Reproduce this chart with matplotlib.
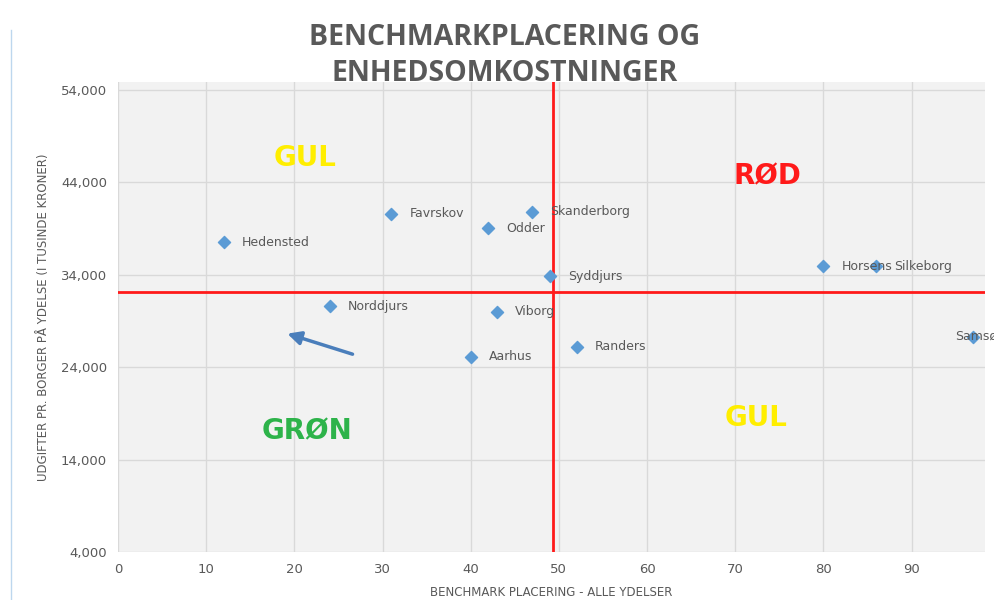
import matplotlib.pyplot as plt
from matplotlib.lines import Line2D

# --- Data ---
kommuner = ['Hedensted', 'Favrskov', 'Skanderborg', 'Odder', 'Syddjurs', 'Norddjurs',
            'Viborg', 'Aarhus', 'Randers', 'Horsens', 'Silkeborg', 'Samsø']
placering = [12, 31, 47, 42, 49, 24, 43, 40, 52, 80, 86, 97]
udgifter = [37500, 40600, 40800, 39000, 33800, 30600, 30000, 25100, 26200, 34900, 34900, 27300]

x_split = 49.3
y_split = 32150

quadrants = ['GUL', 'RØD', 'GRØN', 'GUL']
quad_x = [21.2, 73.6, 21.4, 72.4]
quad_y = [46600, 44600, 17000, 18500]
quad_colors = ['#ffee00', '#ff1a1a', '#2db34a', '#ffee00']

# label offsets (points) - Samsø label sits on top of its marker and runs off the edge
label_dx = [13, 13, 13, 13, 13, 13, 13, 13, 13, 13, 13, -13]

grey = '#595959'

fig = plt.figure(figsize=(9.94, 6), dpi=100)
ax = fig.add_axes([0.1187, 0.08, 0.872, 0.783])
ax.set_facecolor('#f2f2f2')

ax.set_xlim(0, 98.3)
ax.set_ylim(4000, 54800)
ax.set_xticks(range(0, 100, 10))
ax.set_yticks(range(4000, 54001, 10000))
ax.set_yticklabels([f'{v:,}' for v in range(4000, 54001, 10000)])
ax.grid(True, color='#d9d9d9', linewidth=1)
ax.set_axisbelow(True)
for s in ax.spines.values():
    s.set_visible(False)
ax.tick_params(length=0, colors=grey, labelsize=9.5, pad=8)

# quadrant dividers
ax.axvline(x_split, color='#ff1a1a', linewidth=2, zorder=2)
ax.axhline(y_split, color='#ff1a1a', linewidth=2, zorder=2)

ax.scatter(placering, udgifter, marker='D', s=38, color='#5b9bd5', zorder=3)
for name, xv, yv, dx in zip(kommuner, placering, udgifter, label_dx):
    ax.annotate(name, (xv, yv), xytext=(dx, 0), textcoords='offset points',
                va='center', ha='left', fontsize=9, color=grey,
                annotation_clip=False)

for txt, qx, qy, qc in zip(quadrants, quad_x, quad_y, quad_colors):
    ax.text(qx, qy, txt, color=qc, fontsize=20, fontweight='bold', ha='center', va='center')

# arrow pointing into the green quadrant
ax.annotate('', xy=(18.9, 27700), xytext=(26.9, 25300),
            arrowprops=dict(arrowstyle='-|>,head_length=0.8,head_width=0.4',
                            color='#4a7ebb', linewidth=2.5))

ax.set_xlabel('BENCHMARK PLACERING - ALLE YDELSER', fontsize=8.5, color=grey, labelpad=7)
ax.set_ylabel('UDGIFTER PR. BORGER PÅ YDELSE (I TUSINDE KRONER)', fontsize=8.5,
              color=grey, labelpad=8)

fig.text(0.508, 0.937, 'BENCHMARKPLACERING OG', ha='center', va='center',
         fontsize=20.5, fontweight='bold', color=grey, family='Open Sans')
fig.text(0.508, 0.878, 'ENHEDSOMKOSTNINGER', ha='center', va='center',
         fontsize=20.5, fontweight='bold', color=grey, family='Open Sans')

# thin frame line on the left edge
fig.add_artist(Line2D([0.011, 0.011], [0.0, 0.95], color='#bdd7ee', linewidth=1))

plt.savefig('out.png', dpi=100)
